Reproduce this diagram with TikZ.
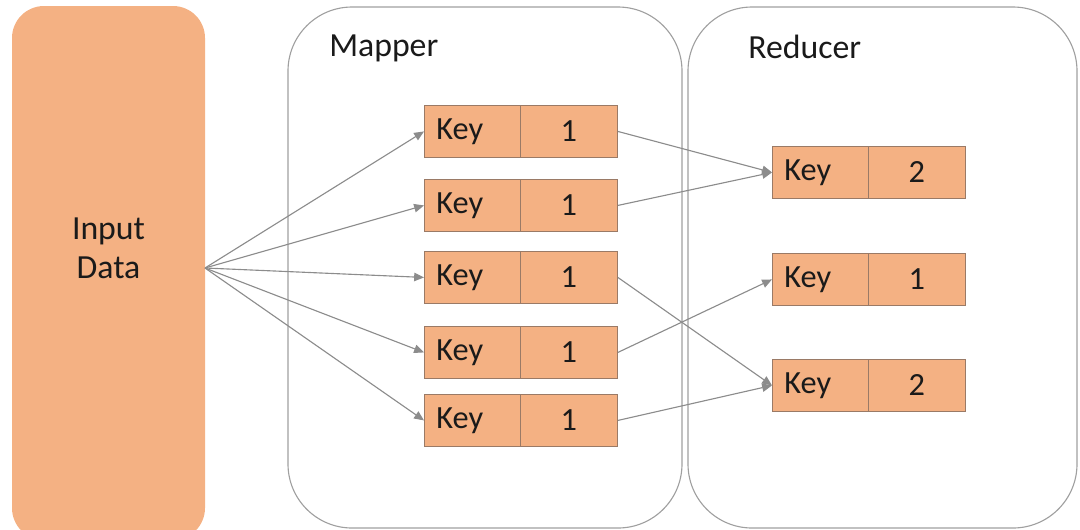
\documentclass[tikz,border=0pt]{standalone}
\usepackage{fontspec}
\setmainfont{Carlito}
\usetikzlibrary{arrows.meta}
\definecolor{boxfill}{HTML}{F4B183}
\definecolor{boxline}{HTML}{9A7A66}
\definecolor{arrowgray}{HTML}{8C8C8C}
\definecolor{frame}{HTML}{A0A0A0}
\definecolor{txt}{HTML}{1A1A1A}
\begin{document}
\begin{tikzpicture}[x=0.025cm,y=-0.025cm,
  conn/.style={draw=arrowgray,line width=0.8pt,-{Triangle[length=7pt,width=6pt]}},
  panel/.style={draw=frame,line width=0.8pt,rounded corners=1.6cm},
  ptitle/.style={font=\fontsize{24}{28}\selectfont,anchor=west,text=txt,inner sep=0pt},
  kvk/.style={draw=boxline,line width=0.6pt,fill=boxfill,inner ysep=0pt,inner xsep=0.3cm,text width=1.8cm,align=left,minimum height=1.3cm,font=\fontsize{23}{26}\selectfont,text=txt,anchor=north west},
  kvv/.style={draw=boxline,line width=0.6pt,fill=boxfill,inner sep=0pt,minimum width=2.425cm,minimum height=1.3cm,font=\fontsize{23}{26}\selectfont,text=txt,anchor=north west}]
\useasboundingbox (0,0) rectangle (1080,529);
% input
\fill[boxfill,rounded corners=0.8cm] (12,6) rectangle (205,540);
\node[font=\fontsize{24}{28}\selectfont,align=center,text=txt] (in) at (108.5,248) {Input\\Data};
\coordinate (inout) at (205,268);
% panels
\draw[panel] (288,7) rectangle (682,528);
\draw[panel] (688,7) rectangle (1077,528);
\node[ptitle] (mt) at (329,48) {Mapper};
\node[ptitle] (rt) at (748,47) {Reducer};
% key/value boxes
\foreach \n/\y in {1/105,2/179,3/251,4/326,5/394}{
  \node[kvk] (mk\n) at (424,\y) {Key};
  \node[kvv] (mv\n) at (520,\y) {1};
}
\node[kvk] (rka) at (772,146) {Key};
\node[kvv] (rva) at (868,146) {2};
\node[kvk] (rkb) at (772,253) {Key};
\node[kvv] (rvb) at (868,253) {1};
\node[kvk] (rkc) at (772,359) {Key};
\node[kvv] (rvc) at (868,359) {2};
% connectors
\foreach \n in {1,...,5}{\draw[conn] (inout) -- (mk\n.west);}
\draw[conn] (mv1.east) -- (rka.west);
\draw[conn] (mv2.east) -- (rka.west);
\draw[conn] (mv3.east) -- (rkc.west);
\draw[conn] (mv4.east) -- (rkb.west);
\draw[conn] (mv5.east) -- (rkc.west);
\end{tikzpicture}
\end{document}
